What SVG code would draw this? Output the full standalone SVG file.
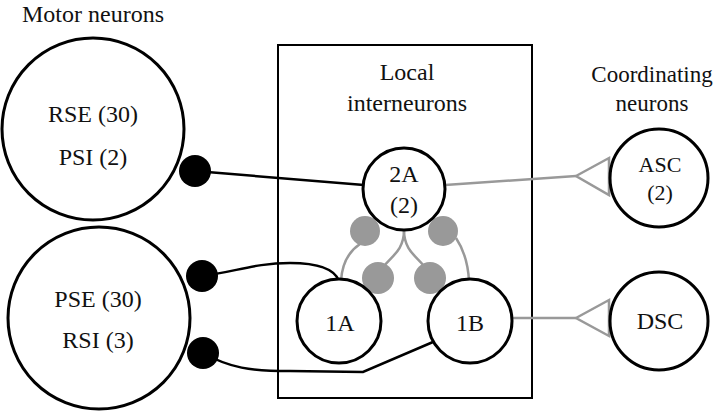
<svg xmlns="http://www.w3.org/2000/svg" width="720" height="416" viewBox="0 0 720 416" font-family="Liberation Serif, Times New Roman, serif">
<style>
text{font-family:"Liberation Serif","Times New Roman",serif;font-size:24px;fill:#111;text-anchor:middle}
.n{fill:#fff;stroke:#000;stroke-width:3}
.b{fill:none;stroke:#000;stroke-width:2.5}
.g{fill:none;stroke:#999;stroke-width:2.5}
.gd{fill:#999}
.bd{fill:#000}
</style>
<rect width="720" height="416" fill="#fff"/>
<text x="22" y="22" style="text-anchor:start">Motor neurons</text>
<rect x="278" y="45" width="254" height="353" fill="none" stroke="#000" stroke-width="2"/>
<text x="407" y="80">Local</text>
<text x="407" y="111">interneurons</text>
<text x="652" y="82" style="font-size:23px">Coordinating</text>
<text x="652" y="111" style="font-size:23px">neurons</text>
<g id="connectors">
<path class="b" d="M195 171 L364 185"/>
<path class="b" d="M202 276 C235 272 255 263 290 263 C320 263 335 270 339 281"/>
<path class="b" d="M203 353 C230 368 250 371 290 371 L363 372 L433 342"/>
<path class="g" d="M445 185 L576 176"/>
<path class="g" d="M576 176 L609 158 L609 195 Z" fill="#fff"/>
<path class="g" d="M512 318 L576 318"/>
<path class="g" d="M576 318 L609 300 L609 336 Z" fill="#fff"/>
<path class="g" d="M404 230 C404 250 392 256 384 266"/>
<path class="g" d="M404 230 C404 250 416 256 424 266"/>
<path class="g" d="M360 244 C348 252 342 264 341 281"/>
<path class="g" d="M456 238 C464 250 468 262 469 281"/>
<circle class="gd" cx="365" cy="231" r="15"/>
<circle class="gd" cx="443" cy="231" r="15"/>
<circle class="gd" cx="378" cy="278" r="16"/>
<circle class="gd" cx="430" cy="278" r="16"/>
<circle class="bd" cx="195" cy="171" r="16"/>
<circle class="bd" cx="202" cy="276" r="16"/>
<circle class="bd" cx="203" cy="353" r="16"/>
</g>
<g id="motor1"><circle class="n" cx="93" cy="129" r="91"/><text x="93" y="122">RSE (30)</text><text x="93" y="165">PSI (2)</text></g>
<g id="motor2"><circle class="n" cx="99" cy="318" r="91"/><text x="98" y="307">PSE (30)</text><text x="98" y="348">RSI (3)</text></g>
<g id="n2A"><circle class="n" cx="404" cy="189" r="41"/><text x="404" y="182">2A</text><text x="404" y="213">(2)</text></g>
<g id="n1A"><circle class="n" cx="339" cy="321" r="42"/><text x="340" y="331">1A</text></g>
<g id="n1B"><circle class="n" cx="470" cy="321" r="42"/><text x="470" y="331">1B</text></g>
<g id="ASC"><circle class="n" cx="659" cy="178" r="49"/><text x="660" y="172" style="font-size:22px">ASC</text><text x="660" y="200" style="font-size:22px">(2)</text></g>
<g id="DSC"><circle class="n" cx="659" cy="321" r="49"/><text x="660" y="329">DSC</text></g>
</svg>
